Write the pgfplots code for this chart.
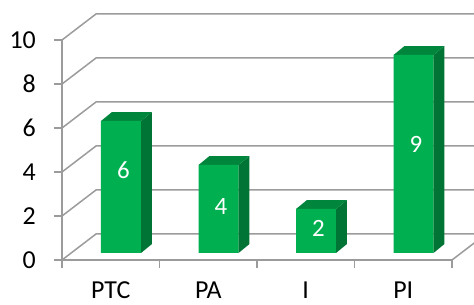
\documentclass[border=0pt]{standalone}
\usepackage{pgfplots}
\pgfplotsset{compat=1.18}
\usepackage{pgfplotstable}
\usepackage{fontspec}
\setmainfont{Carlito}
\definecolor{gridgray}{RGB}{155,155,155}
\definecolor{barfront}{RGB}{0,176,80}
\definecolor{barside}{RGB}{0,116,52}
\definecolor{bartop}{RGB}{0,134,60}

% category position, value
\pgfplotstableread{
c v
0 6
1 4
2 2
3 9
}\bardata
% label positions (centre of the value label)
\pgfplotstableread{
c ly v
0.13 4.09 6
1.13 2.45 4
2.13 1.43 2
3.13 5.25 9
}\labeldata

\begin{document}
\begin{tikzpicture}
\useasboundingbox (-62bp,-45bp) rectangle (412bp,260bp);
\begin{axis}[
  scale only axis,
  width=390bp, height=220bp,
  xmin=-0.5, xmax=3.5, ymin=0, ymax=10,
  clip=false,
  axis lines*=left,
  axis line style={draw=gridgray, line width=1.5bp, -},
  tick style={draw=gridgray, line width=1.5bp},
  tick align=outside,
  major tick length=8bp,
  ytick={0,2,4,6,8,10},
  xtick={-0.5,0.5,1.5,2.5,3.5},
  xticklabels={},
  extra x ticks={0,1,2,3},
  extra x tick labels={PTC,PA,I,PI},
  extra x tick style={major tick length=0pt},
  /pgf/number format/assume math mode=true,
  tick label style={font=\fontsize{26}{30}\selectfont, text=black},
  yticklabel style={anchor=east, inner sep=0pt, xshift=-18bp},
  xticklabel style={anchor=base, inner sep=0pt, text depth=0pt, yshift=-38bp},
]
% back wall gridlines (with the side-wall diagonal)
\addplot[gridgray, line width=1.5bp] coordinates {(-0.5,0) (-0.1513,1.182) (3.8487,1.182)};
\addplot[gridgray, line width=1.5bp] coordinates {(-0.5,2) (-0.1513,3.182) (3.8487,3.182)};
\addplot[gridgray, line width=1.5bp] coordinates {(-0.5,4) (-0.1513,5.182) (3.8487,5.182)};
\addplot[gridgray, line width=1.5bp] coordinates {(-0.5,6) (-0.1513,7.182) (3.8487,7.182)};
\addplot[gridgray, line width=1.5bp] coordinates {(-0.5,8) (-0.1513,9.182) (3.8487,9.182)};
\addplot[gridgray, line width=1.5bp] coordinates {(-0.5,10) (-0.1513,11.182) (3.8487,11.182)};
% floor right edge
\addplot[gridgray, line width=1.5bp] coordinates {(3.5,0) (3.8487,1.182)};

% bar side faces
\addplot[fill=barside, draw=none] coordinates {(0.31,0.318) (0.423,0.727) (0.423,6.727) (0.31,6.318)} -- cycle;
\addplot[fill=barside, draw=none] coordinates {(1.31,0.318) (1.423,0.727) (1.423,4.727) (1.31,4.318)} -- cycle;
\addplot[fill=barside, draw=none] coordinates {(2.31,0.318) (2.423,0.727) (2.423,2.727) (2.31,2.318)} -- cycle;
\addplot[fill=barside, draw=none] coordinates {(3.31,0.318) (3.423,0.727) (3.423,9.727) (3.31,9.318)} -- cycle;
% bar top faces
\addplot[fill=bartop, draw=none] coordinates {(-0.10,6.318) (0.31,6.318) (0.423,6.727) (0.013,6.727)} -- cycle;
\addplot[fill=bartop, draw=none] coordinates {(0.90,4.318) (1.31,4.318) (1.423,4.727) (1.013,4.727)} -- cycle;
\addplot[fill=bartop, draw=none] coordinates {(1.90,2.318) (2.31,2.318) (2.423,2.727) (2.013,2.727)} -- cycle;
\addplot[fill=bartop, draw=none] coordinates {(2.90,9.318) (3.31,9.318) (3.423,9.727) (3.013,9.727)} -- cycle;
% bar front faces
\addplot[ybar, bar width=0.41, bar shift=0.105, fill=barfront, draw=none, yshift=7bp] table[x=c, y=v] {\bardata};

% value labels
\addplot[draw=none, mark=none, nodes near coords, point meta=explicit symbolic,
  nodes near coords align=center,
  every node near coord/.append style={anchor=center, text=white, font=\fontsize{25}{29}\selectfont}]
  table[x=c, y=ly, meta=v] {\labeldata};
\end{axis}
\end{tikzpicture}
\end{document}
